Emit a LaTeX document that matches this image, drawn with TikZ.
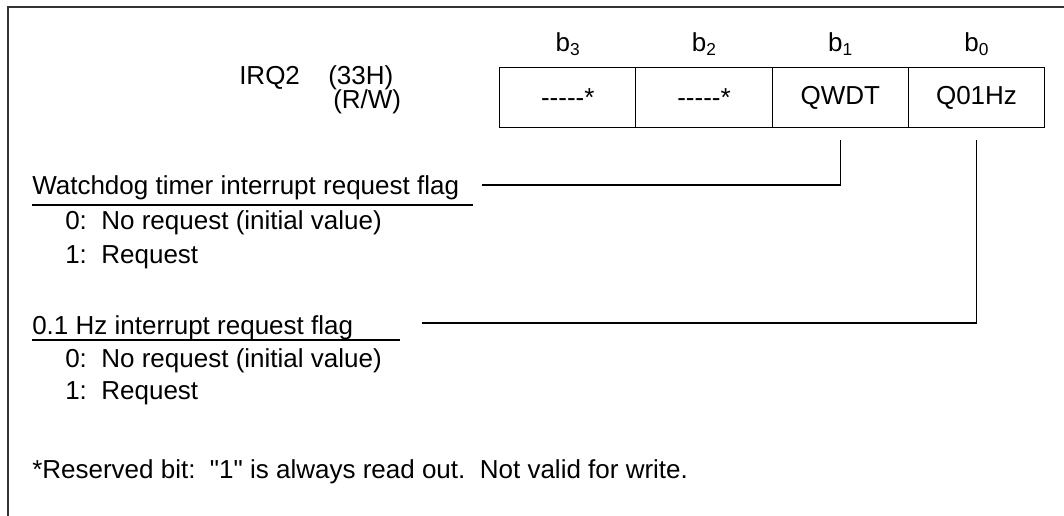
\documentclass[tikz,border=0pt]{standalone}
\usepackage{fontspec}
\setmainfont{Liberation Sans}[Ligatures=TeXOff]
\usetikzlibrary{calc}
\begin{document}
\begin{tikzpicture}[x=0.75pt,y=-0.75pt,
  txt/.style={inner sep=0pt, anchor=base west, font=\fontsize{19.5}{23}\selectfont},
  bitlab/.style={inner sep=0pt, anchor=base, font=\fontsize{19.5}{23}\selectfont},
  cell/.style={draw, line width=0.9pt, minimum width=102.19pt, minimum height=45pt, inner sep=0pt, anchor=north west, font=\fontsize{19.5}{23}\selectfont},
  lnk/.style={line width=0.9pt},
  frame/.style={line width=1.4pt, draw=black!80}]
\useasboundingbox (0,0) rectangle (1064,516);
% frame
\coordinate (fr) at (1064,7);
\coordinate (fc) at (8,7);
\coordinate (fb) at (8,516);
\draw[frame] (fr) -- (fc) -- (fb);
% register
\node[txt] (irq) at (239,85) {IRQ2};
\node[txt] (addr) at (328,85) {(33H)};
\node[txt] (rw) at (333,109) {(R/W)};
\node[cell] (cb3) at (499,67) {-----*};
\node[cell] (cb2) at (635.25,67) {-----*};
\node[cell] (cb1) at (771.5,67) {QWDT};
\node[cell] (cb0) at (907.75,67) {Q01Hz};
\node[bitlab] (l3) at (567.6,52) {b\raisebox{-0.25ex}{\fontsize{13}{13}\selectfont 3}};
\node[bitlab] (l2) at (703.9,52) {b\raisebox{-0.25ex}{\fontsize{13}{13}\selectfont 2}};
\node[bitlab] (l1) at (840.1,52) {b\raisebox{-0.25ex}{\fontsize{13}{13}\selectfont 1}};
\node[bitlab] (l0) at (976.4,52) {b\raisebox{-0.25ex}{\fontsize{13}{13}\selectfont 0}};
% descriptions
\node[txt] (wd) at (32,195) {Watchdog timer interrupt request flag};
\node[txt] (wd0) at (65,230) {0:\ \ No request (initial value)};
\node[txt] (wd1) at (65,264) {1:\ \ Request};
\node[txt] (hz) at (32,335) {0.1 Hz interrupt request flag};
\node[txt] (hz0) at (65,368) {0:\ \ No request (initial value)};
\node[txt] (hz1) at (65,400) {1:\ \ Request};
\node[txt] (note) at (32,479) {*Reserved bit:\ \ "1" is always read out.\ \ Not valid for write.};
% underlines
\coordinate (wdu) at (473,205);
\coordinate (hzu) at (400,340);
\draw[lnk] (wd.base west |- wdu) -- (wdu);
\draw[lnk] (hz.base west |- hzu) -- (hzu);
% connectors
\coordinate (wdl) at (482,185);
\coordinate (hzl) at (422,323);
\draw[lnk] ([yshift=-8.5pt]cb1.south) |- (wdl);
\draw[lnk] ([yshift=-8.5pt]cb0.south) |- (hzl);
\end{tikzpicture}
\end{document}
